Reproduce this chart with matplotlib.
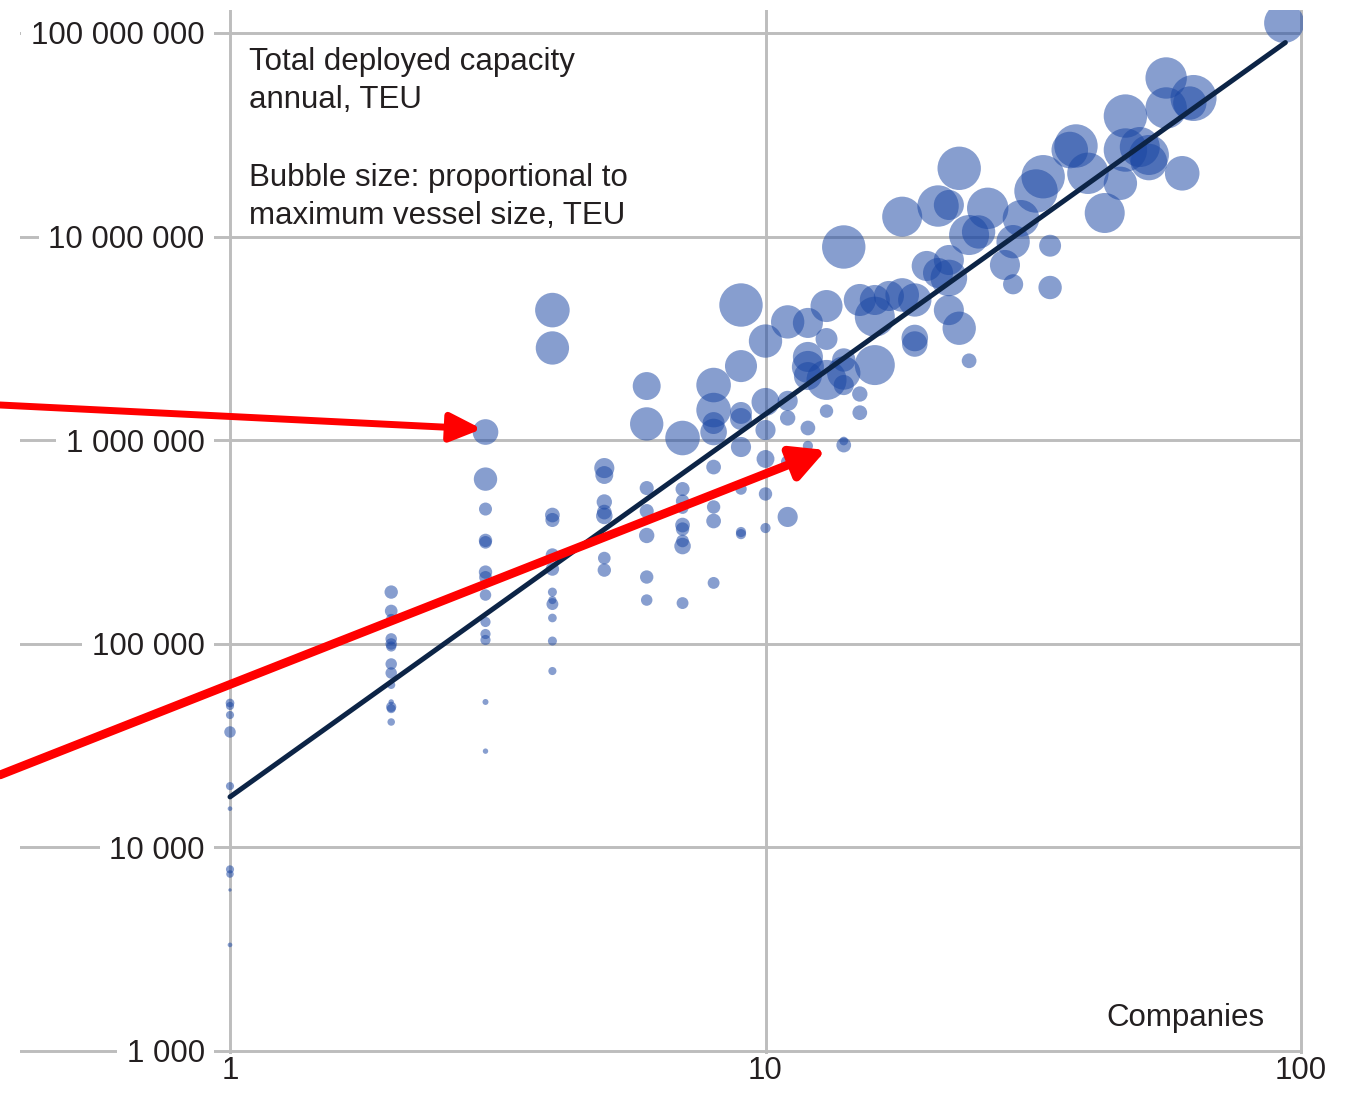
import matplotlib
matplotlib.use('Agg')
import matplotlib.pyplot as plt
from matplotlib import font_manager
from matplotlib.ticker import FixedLocator, NullLocator
import numpy as np

# Number of companies per market (x), total deployed capacity per year in TEU (y)
# and maximum vessel size in TEU (bubble area)
companies = [
    1, 1, 1, 1, 1, 1, 1, 1, 1, 1,
    2, 2, 2, 2, 2, 2, 2, 2, 2, 2, 2, 2, 2,
    3, 3, 3, 3, 3, 3, 3, 3, 3, 3, 3, 3, 3,
    4, 4, 4, 4, 4, 4, 4, 4, 4, 4, 4, 4,
    5, 5, 5, 5, 5, 5, 5,
    6, 6, 6, 6, 6, 6, 6,
    7, 7, 7, 7, 7, 7, 7, 7, 7,
    8, 8, 8, 8, 8, 8, 8, 8,
    9, 9, 9, 9, 9, 9, 9, 9,
    10, 10, 10, 10, 10, 10,
    11, 11, 11, 11, 11,
    12, 12, 12, 12, 12, 12,
    13, 13, 13, 13,
    14, 14, 14, 14, 14, 14,
    15, 15, 15,
    16, 16, 16,
    17,
    18, 18,
    19, 19, 19,
    20,
    21, 21,
    22, 22, 22, 22,
    23, 23,
    24, 24,
    25, 26, 28,
    29, 29,
    30, 32, 33,
    34, 34,
    37, 38, 40, 43, 46,
    47, 47,
    50,
    52, 52,
    56, 56,
    60, 62, 63, 93,
]
capacity = [
    51200, 49500, 44700, 36900, 20000, 15500, 7800, 7400, 6180, 3320,
    179500, 144900, 132400, 105700, 99800, 97000, 79600, 71900, 62800, 51800, 49000, 48000, 41300,
    1097000, 644000, 459000, 322000, 315000, 225000, 212000, 173600, 128000, 111700, 104400, 51800, 29700,
    4355000, 2838000, 429000, 405600, 273000, 232800, 179500, 164000, 156700, 133900, 103200, 73500,
    729600, 674500, 497300, 443600, 424600, 263600, 230100,
    1845000, 1202000, 582000, 448700, 340400, 212800, 164000,
    1025000, 575600, 502300, 464600, 383000, 366100, 320000, 302000, 158500,
    1866000, 1406000, 1214000, 1097000, 738000, 470000, 401000, 199100,
    4613000, 2312000, 1361000, 1271000, 926000, 575600, 354000, 345700,
    3069000, 1542000, 1122000, 808700, 544400, 370300,
    3811000, 1560000, 1286000, 781600, 419800,
    3767000, 2564000, 2290000, 2066000, 1148000, 937600,
    4560000, 3141000, 1977000, 1390000,
    8892000, 2477000, 2138000, 1866000, 990800, 946300,
    4883000, 1686000, 1365000,
    4883000, 4042000, 2339000,
    5109000,
    12530000, 5168000,
    4883000, 3177000, 2967000,
    7174000,
    14130000, 6627000,
    14300000, 7674000, 6264000, 4355000,
    21650000, 3547000,
    10180000, 2455000,
    10540000, 13770000, 7254000,
    9442000, 5832000,
    12300000, 16750000, 19680000,
    9020000, 5623000,
    26620000, 27870000, 20460000, 13060000, 18270000,
    39090000, 26620000,
    27540000,
    25170000, 23240000,
    60120000, 42830000,
    20460000, 45290000, 47950000, 112000000,
]
max_vessel = [
    800, 700, 700, 1400, 700, 230, 700, 600, 120, 230,
    1900, 1700, 1100, 1400, 1400, 1100, 1400, 1400, 700, 310, 1100, 860, 600,
    7000, 5800, 1800, 1900, 1700, 1900, 1700, 1400, 1100, 1100, 1100, 380, 310,
    12700, 11800, 2300, 2100, 1900, 1900, 860, 700, 1500, 800, 860, 700,
    4300, 3400, 2500, 2300, 2900, 1700, 1900,
    8300, 11800, 2100, 2100, 2500, 1900, 1400,
    12700, 2100, 1900, 1500, 2300, 1900, 1700, 2900, 1500,
    12700, 12700, 5100, 7500, 2300, 1900, 2300, 1500,
    20000, 10900, 5100, 5100, 4300, 1400, 1100, 1100,
    11800, 8300, 4300, 3400, 1900, 1100,
    11800, 4300, 2500, 1900, 4300,
    9600, 9600, 10900, 8300, 2300, 1100,
    10900, 5100, 17000, 1900,
    20000, 5800, 11800, 4300, 800, 2300,
    10900, 2500, 2300,
    9600, 17000, 17000,
    9600,
    17000, 12000,
    11800, 7500, 6900,
    9600,
    18200, 9600,
    9600, 9600, 14200, 9600,
    20000, 11800,
    17000, 2300,
    11800, 18200, 9600,
    11800, 4300,
    14200, 20000, 20000,
    5100, 5800,
    14200, 20000, 18200, 17000, 11800,
    20000, 20000,
    17000,
    17000, 14200,
    18200, 18200,
    12700, 11800, 22500, 17000,
]

# power-law trend: capacity = trend_a * companies ** trend_b
trend_a = 17700
trend_b = 1.88
trend_x = [1, 93.5]

y_ticks = [1e3, 1e4, 1e5, 1e6, 1e7, 1e8]
y_labels = ['1 000', '10 000', '100 000', '1 000 000', '10 000 000', '100 000 000']
x_ticks = [1, 10, 100]
x_labels = ['1', '10', '100']

# the original uses a narrow grotesque; fall back to Liberation Sans a bit smaller
installed = {f.name for f in font_manager.fontManager.ttflist}
if 'Liberation Sans Narrow' in installed:
    FONT, FS = 'Liberation Sans Narrow', 27
else:
    FONT, FS = 'Liberation Sans', 22.5
plt.rcParams['font.family'] = [FONT, 'DejaVu Sans']
TXT = '#231f20'

W, H = 1348, 1093
fig = plt.figure(figsize=(W / 100, H / 100), dpi=100)
# axes box in pixels: left 20, right 1303, top 10, bottom 1054
ax = fig.add_axes([20 / W, 1 - 1054 / H, 1283 / W, 1044 / H])
ax.set_xscale('log')
ax.set_yscale('log')
ax.set_xlim(10 ** (-210 / 535.5), 10 ** (2 + 2 / 535.5))
ax.set_ylim(10 ** (3 - 3 / 203.6), 10 ** (8 + 23 / 203.6))

for s in ax.spines.values():
    s.set_visible(False)

ax.xaxis.set_major_locator(FixedLocator(x_ticks))
ax.yaxis.set_major_locator(FixedLocator(y_ticks))
ax.xaxis.set_minor_locator(NullLocator())
ax.yaxis.set_minor_locator(NullLocator())
ax.set_xticklabels(x_labels)
ax.set_yticklabels(y_labels)
ax.tick_params(axis='both', length=0, labelsize=FS, labelcolor=TXT)
ax.tick_params(axis='x', pad=1.5)
ax.tick_params(axis='y', pad=-133)
for lab in ax.get_yticklabels():
    lab.set_bbox(dict(facecolor='white', edgecolor='none', pad=7))

ax.grid(True, color='#bdbdbd', linewidth=2.1)
ax.set_axisbelow(True)

# bubbles: area proportional to max vessel size
v = np.array(max_vessel, dtype=float)
r_px = 21.7 * np.sqrt(v / 20000)
sizes = (2 * r_px * 0.72) ** 2
ax.scatter(companies, capacity, s=sizes, color='#1a46a3', alpha=0.52,
           linewidths=0, zorder=2)

tx = np.array(trend_x)
ax.plot(tx, trend_a * tx ** trend_b, color='#0c2446', linewidth=3.6,
        solid_capstyle='round', zorder=3)

# red highlight arrows
ax.annotate('', xy=(2.955, 1135000), xytext=(0.372, 1489000),
            arrowprops=dict(arrowstyle='-|>,head_length=0.95,head_width=0.43',
                            color='#ff0000', lw=5, shrinkA=0, shrinkB=0,
                            mutation_scale=20),
            annotation_clip=False, zorder=4)
ax.annotate('', xy=(12.97, 895000), xytext=(0.372, 22700),
            arrowprops=dict(arrowstyle='-|>,head_length=1.0,head_width=0.52',
                            color='#ff0000', lw=6.3, shrinkA=0, shrinkB=0,
                            mutation_scale=20),
            annotation_clip=False, zorder=4)

# notes
notes = [('Total deployed capacity', 70), ('annual, TEU', 108),
         ('Bubble size: proportional to', 186), ('maximum vessel size, TEU', 224)]
for line, base in notes:
    fig.text(249 / W, 1 - base / H, line, fontsize=FS, color=TXT,
             ha='left', va='baseline', zorder=5)
fig.text(1265 / W, 1 - 1026 / H, 'Companies', fontsize=FS, color=TXT,
         ha='right', va='baseline', zorder=5)

fig.savefig('out.png', dpi=100)
